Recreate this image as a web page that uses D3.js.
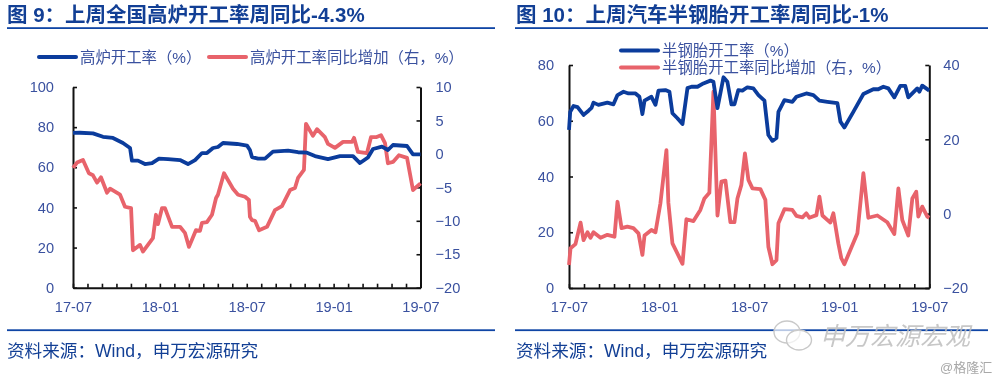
<!DOCTYPE html>
<html><head><meta charset="utf-8">
<script src="https://cdn.jsdelivr.net/npm/d3@7"></script>
<style>
html,body{margin:0;padding:0;background:#fff;overflow:hidden}
svg{display:block;filter:blur(0.5px)}
text{font-family:"Liberation Sans","Noto Sans CJK SC",sans-serif}
</style></head><body><svg id="c" width="1000" height="381"></svg>
<script>
// x values are months elapsed since 2017-07
const xTickLabels = ["17-07","18-01","18-07","19-01","19-07"];

const rateMonths9 = [0,.48,1.38,2.07,2.76,3.45,3.94,4.07,4.49,4.97,5.46,5.94,6.56,7.39,7.94,8.43,8.91,9.25,9.67,10.01,10.36,11.33,12.02,12.22,12.36,12.78,13.26,13.81,14.85,15.54,16.16,16.71,17.61,18.44,19.34,19.82,20.37,20.72,21.34,21.75,22.1,23.07,23.48,24];
const rate9 = [77.1,77.2,76.9,75.2,74.6,72.1,69.6,63.3,63.3,61.6,62.1,64.3,64.1,63.6,61.6,63.6,67.1,67.1,69.6,70.1,72.1,71.6,70.8,68.6,65.1,64.3,64.3,67.8,68.3,67.5,67.3,65.6,64.1,65.6,65.6,62.1,64.9,69.1,70.3,68.6,71.1,70.6,66.4,66.4];
const yoyMonths9 = [0,.28,.69,1.1,1.38,1.66,1.93,2.35,2.56,3.25,3.59,4.01,4.14,4.63,4.83,5.52,5.73,5.87,6.15,6.35,6.84,7.39,7.73,8.01,8.49,8.77,8.91,9.25,9.6,9.88,10.01,10.43,11.05,11.4,11.88,12.15,12.22,12.36,12.57,12.85,13.4,13.95,14.43,14.99,15.33,15.54,15.95,16.09,16.57,16.85,17.4,17.61,18.09,18.65,19.27,19.41,19.68,20.3,20.58,20.93,21.27,21.55,21.75,22.1,22.51,23.07,23.48,24];
const yoy9 = [-2.1,-1.3,-.9,-2.9,-3.2,-4.3,-3.5,-5.8,-5.2,-6.1,-7.9,-8.1,-14.4,-13.6,-14.6,-12.6,-9.1,-10.5,-8.1,-8.1,-10.9,-10.9,-11.8,-13.9,-11.4,-11.5,-10.3,-10.2,-9.1,-6.6,-6.1,-2.9,-5.2,-6.1,-6.4,-6.9,-9.4,-9.9,-10,-11.4,-10.9,-8.4,-7.8,-5.4,-5.1,-3.6,-2.4,4.5,2.7,3.7,2.5,1.5,.9,1.8,1.8,2.4,.3,.1,2.5,2.5,2.8,1.6,-1.4,-1.2,-.2,-.6,-5.4,-4.4];

const rateMonths10 = [0,.08,.3,.57,.97,1.3,1.5,1.63,1.96,2.56,2.96,3.23,3.63,3.96,4.43,4.69,4.89,5.03,5.49,5.76,5.96,6.42,6.69,6.89,7.22,7.56,7.89,8.16,8.56,8.95,9.42,9.62,9.89,10.29,10.55,10.82,11.02,11.28,11.55,11.88,12.28,12.62,13.02,13.28,13.55,13.82,13.95,14.35,14.88,15.15,15.81,16.28,16.68,17.21,17.88,18.08,18.34,18.94,19.61,20.27,20.6,20.94,21.27,21.67,22.07,22.4,22.6,23.2,23.34,23.53,24];
const rate10 = [56.7,63.2,65.3,64.9,62.1,63.6,64.6,66.5,65.7,66.5,65.9,69.2,70.4,69.8,69.8,68.6,62.4,67.2,68.6,65.7,70.8,71,70.4,62.7,60.9,58.8,71.7,72.2,72.2,73.4,74.4,74,64.5,75.6,74,65.9,65.9,71,70.8,72,71.6,69.2,67.2,54.9,52.8,53.8,63.2,67.4,66.8,68.6,69.8,69.2,67.2,66.8,66.3,59.7,57.6,63.2,69.6,71.3,71.3,72.2,71.6,68.4,72.5,72.5,68.4,71.6,70.4,72.6,70.8];
const yoyMonths10 = [0,.1,.43,.77,.97,1.23,1.43,1.63,2.1,2.56,3.03,3.23,3.5,3.89,4.29,4.63,4.89,5.03,5.49,5.76,6.09,6.29,6.49,6.62,6.89,7.56,7.82,8.29,8.75,9.02,9.35,9.62,9.89,10.15,10.42,10.75,11.02,11.22,11.48,11.72,11.95,12.22,12.75,13.08,13.28,13.55,13.82,13.95,14.35,14.88,15.15,15.55,15.81,16.01,16.48,16.68,16.88,17.41,17.61,17.94,18.14,18.34,19.21,19.61,19.94,20.54,21.2,21.67,21.94,22.2,22.6,22.87,23.13,23.27,23.53,23.87,24];
const yoy10 = [-13.8,-9.3,-8.2,-2.4,-7.1,-5,-6.5,-5,-6.5,-5.7,-6.2,3.2,-3.9,-3.5,-3.9,-5.3,-11.1,-5.9,-4.4,-5,2.8,9.9,17.1,2.9,-8,-13.5,-1.5,-2,1,4.1,5.6,32.8,-.5,8.6,8.9,-2.3,-2.3,4.1,7.7,16.2,9.1,6.8,6.6,3.7,-8.9,-13.6,-12.5,-2.6,1.2,1,-.6,-1,.1,-1.1,-.4,4.6,-.5,-2.4,.1,-8,-12,-13.6,-5.3,10.9,-1.1,-.5,-2.3,-5.5,6.8,-1.7,-5.9,4.1,5.9,-.8,1.9,-.8,-1.1];

const leftTicks9 = [0,20,40,60,80,100];
const rightTicks9 = [-20,-15,-10,-5,0,5,10];
const leftTicks10 = [0,20,40,60,80];
const rightTicks10 = [-20,0,20,40];

const BLUE="#0b3c9c", RED="#e8636b", TXT="#3a519f", TITLE="#123f95", RULE="#0f45a5";
const svg=d3.select("#c");

function panel(o){
  const g=svg.append("g");
  g.append("text").attr("x",o.titleX).attr("y",22).attr("font-size",20.5).attr("font-weight",700).attr("fill",TITLE).text(o.title);
  g.append("rect").attr("x",o.ruleX0).attr("y",27.2).attr("width",o.ruleX1-o.ruleX0).attr("height",1.8).attr("fill",RULE);
  g.append("rect").attr("x",o.ruleX0).attr("y",329.3).attr("width",o.ruleX1-o.ruleX0).attr("height",1.8).attr("fill",RULE);
  g.append("text").attr("x",o.titleX).attr("y",356.5).attr("font-size",17.6).attr("fill",TITLE).text("资料来源：Wind，申万宏源研究");

  const x=d3.scaleLinear().domain([0,24]).range(o.xr);
  const yL=d3.scaleLinear().domain(o.ld).range(o.yr);
  const yR=d3.scaleLinear().domain(o.rd).range(o.yr);
  const axL=d3.axisLeft(yL).tickValues(o.lt).tickSizeInner(-4).tickSizeOuter(0).tickPadding(o.lp);
  const axR=d3.axisRight(yR).tickValues(o.rt).tickSizeInner(-4).tickSizeOuter(0).tickPadding(o.rp);
  const axB=d3.axisBottom(x).tickValues(d3.range(0,25)).tickSizeInner(-4).tickSizeOuter(0).tickPadding(0)
     .tickFormat(d=>d%6===0?xTickLabels[d/6]:"");
  const sty=s=>{s.select(".domain").attr("stroke","#111").attr("stroke-width",2);
    s.selectAll(".tick line").attr("stroke","#111").attr("stroke-width",1.6);
    s.selectAll("text").attr("font-size",14.6).attr("fill",TXT).attr("font-family",'"Liberation Sans",sans-serif');};
  g.append("g").attr("transform",`translate(${o.xr[0]},0)`).call(axL).call(sty);
  g.append("g").attr("transform",`translate(${o.xr[1]},0)`).call(axR).call(sty);
  const b=g.append("g").attr("transform",`translate(0,${o.yr[0]})`).call(axB).call(sty);
  b.selectAll("text").attr("dy",null).attr("y",24);

  const line=(ys,y)=>d3.line().x((d,i)=>x(d)).y((d,i)=>y(ys[i]));
  g.append("path").attr("d",line(o.yoy,yR)(o.yoyM)).attr("fill","none").attr("stroke",RED).attr("stroke-width",3.8).attr("stroke-linejoin","round");
  g.append("path").attr("d",line(o.rate,yL)(o.rateM)).attr("fill","none").attr("stroke",BLUE).attr("stroke-width",3.8).attr("stroke-linejoin","round");

  o.legend.forEach(l=>{
    g.append("line").attr("x1",l.x).attr("x2",l.x+37).attr("y1",l.y).attr("y2",l.y).attr("stroke",l.c).attr("stroke-width",4).attr("stroke-linecap","round");
    g.append("text").attr("x",l.x+41).attr("y",l.y+5.5).attr("font-size",15.4).attr("fill",TXT).text(l.t);
  });
}

panel({title:"图 9：上周全国高炉开工率周同比-4.3%",titleX:7,ruleX0:7,ruleX1:495,
  xr:[73,420.5],yr:[287.7,87],ld:[0,100],rd:[-20,10],lt:leftTicks9,rt:rightTicks9,lp:19,rp:15,
  rateM:rateMonths9,rate:rate9,yoyM:yoyMonths9,yoy:yoy9,
  legend:[{x:39,y:57,c:BLUE,t:"高炉开工率（%）"},{x:209,y:57,c:RED,t:"高炉开工率同比增加（右，%）"}]});
panel({title:"图 10：上周汽车半钢胎开工率周同比-1%",titleX:516,ruleX0:515,ruleX1:988,
  xr:[569,929.3],yr:[288,65],ld:[0,80],rd:[-20,40],lt:leftTicks10,rt:rightTicks10,lp:15,rp:14,
  rateM:rateMonths10,rate:rate10,yoyM:yoyMonths10,yoy:yoy10,
  legend:[{x:621,y:50.5,c:BLUE,t:"半钢胎开工率（%）"},{x:621,y:67.5,c:RED,t:"半钢胎开工率同比增加（右，%）"}]});

// watermark
const wm=svg.append("g");
[[787,332,13,11],[799,340,12.5,10]].forEach(e=>wm.append("ellipse").attr("cx",e[0]).attr("cy",e[1]).attr("rx",e[2]).attr("ry",e[3]).attr("fill","rgba(255,255,255,.7)").attr("stroke","#c9c9c9").attr("stroke-width",1.4));
wm.append("text").attr("x",820).attr("y",345).attr("font-size",25).attr("fill","#bdbdbd").attr("fill-opacity",.85).attr("font-style","italic").text("申万宏源宏观");
wm.append("text").attr("x",940).attr("y",372).attr("font-size",13).attr("fill","#a8a8a8").text("@格隆汇");
</script></body></html>
